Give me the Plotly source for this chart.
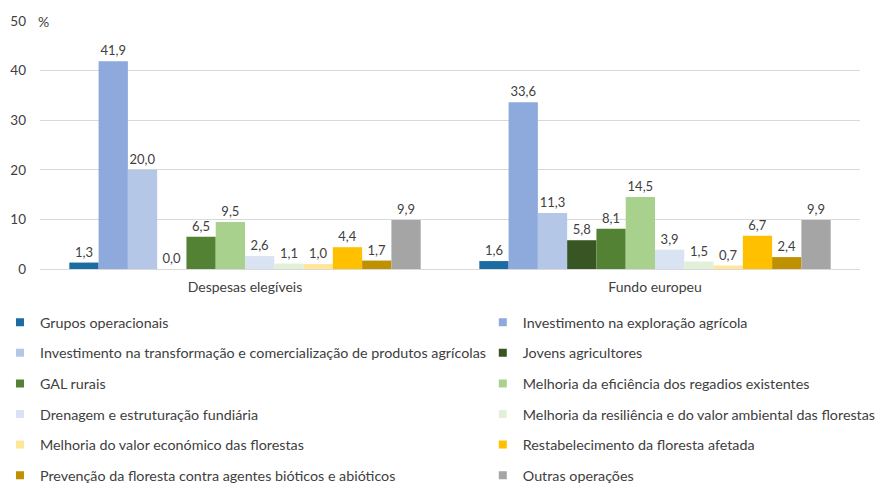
import plotly.graph_objects as go

categories = ["Despesas elegíveis", "Fundo europeu"]
series_names = [
    "Grupos operacionais",
    "Investimento na exploração agrícola",
    "Investimento na transformação e comercialização de produtos agrícolas",
    "Jovens agricultores",
    "GAL rurais",
    "Melhoria da eficiência dos regadios existentes",
    "Drenagem e estruturação fundiária",
    "Melhoria da resiliência e do valor ambiental das florestas",
    "Melhoria do valor económico das florestas",
    "Restabelecimento da floresta afetada",
    "Prevenção da floresta contra agentes bióticos e abióticos",
    "Outras operações",
]
despesas_elegiveis = [1.3, 41.9, 20.0, 0.0, 6.5, 9.5, 2.6, 1.1, 1.0, 4.4, 1.7, 9.9]
fundo_europeu = [1.6, 33.6, 11.3, 5.8, 8.1, 14.5, 3.9, 1.5, 0.7, 6.7, 2.4, 9.9]
colors = ["#1B6CA3", "#8EA9DB", "#B4C7E7", "#375623", "#548235", "#A9D18E",
          "#DAE3F3", "#E2F0D9", "#FFE699", "#FFC000", "#BF9000", "#A5A5A5"]

FONT = "Lato"
TXT = "#404040"

fig = go.Figure()
for i, name in enumerate(series_names):
    fig.add_trace(go.Bar(
        x=categories,
        y=[despesas_elegiveis[i], fundo_europeu[i]],
        name=name,
        marker=dict(color=colors[i], line=dict(width=0)),
        texttemplate="%{y:.1f}",
        textposition="outside",
        textfont=dict(size=13, color=TXT, family=FONT),
        cliponaxis=False,
        showlegend=False,
        hoverinfo="skip",
    ))

# legend entries with small square swatches
for i, name in enumerate(series_names):
    fig.add_trace(go.Scatter(
        x=[None], y=[None],
        mode="markers",
        name=name,
        marker=dict(symbol="square", size=8, color=colors[i]),
        legend="legend" if i % 2 == 0 else "legend2",
        legendgroup="g%d" % i,
        hoverinfo="skip",
    ))

legend_common = dict(
    orientation="v",
    traceorder="grouped",
    tracegroupgap=9.0,
    font=dict(size=14.3, color=TXT, family=FONT),
    bgcolor="rgba(0,0,0,0)",
    borderwidth=0,
    yanchor="top",
    xanchor="left",
)

fig.update_layout(
    width=875,
    height=483,
    margin=dict(l=40, r=15, t=21, b=214, autoexpand=False),
    paper_bgcolor="white",
    plot_bgcolor="white",
    separators=",.",
    barmode="group",
    bargap=0.143,
    bargroupgap=0,
    font=dict(family=FONT, color=TXT, size=13),
    showlegend=True,
    legend=dict(x=-0.0488, y=-0.151, **legend_common),
    legend2=dict(x=0.540, y=-0.151, **legend_common),
    xaxis=dict(
        showgrid=False,
        showline=False,
        ticks="",
        ticklabelstandoff=8,
        tickfont=dict(size=14, color=TXT, family=FONT),
    ),
    yaxis=dict(
        range=[0, 50],
        dtick=10,
        showgrid=True,
        gridcolor="#D9D9D9",
        gridwidth=1,
        zeroline=True,
        zerolinecolor="#D9D9D9",
        zerolinewidth=1,
        showline=False,
        ticks="",
        ticklabelstandoff=13,
        tickfont=dict(size=13.5, color=TXT, family=FONT),
    ),
    annotations=[dict(
        text="%", xref="paper", yref="y", x=0, y=50, xshift=-4,
        xanchor="left", yanchor="middle", showarrow=False,
        font=dict(size=14, color=TXT, family=FONT),
    )],
)

fig.write_html(
    "out.html",
    config={"displayModeBar": False},
    post_script="document.body.style.margin='0';document.body.style.overflow='hidden';",
)
